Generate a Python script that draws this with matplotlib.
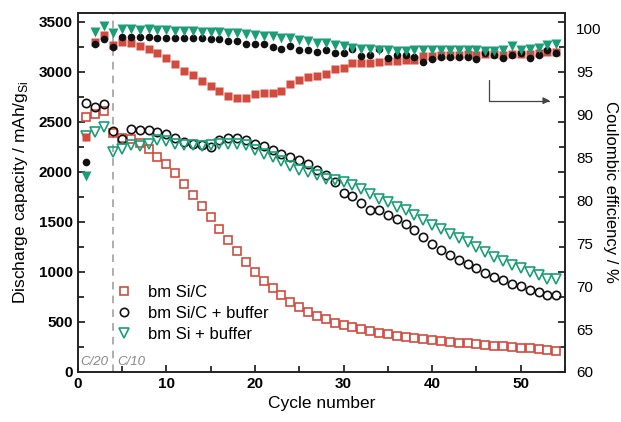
import matplotlib
matplotlib.use("Agg")
import matplotlib.pyplot as plt
from matplotlib.ticker import MultipleLocator

plt.rcParams['font.family'] = ['Liberation Sans', 'DejaVu Sans']
plt.rcParams['mathtext.fontset'] = 'custom'
plt.rcParams['mathtext.rm'] = 'Liberation Sans'

cycles = list(range(1, 55))

# discharge capacity, mAh/g Si (open markers)
cap_sic = [2552, 2579, 2605, 2390, 2340, 2330, 2290, 2230, 2147, 2081,
           1987, 1880, 1770, 1660, 1545, 1430, 1316, 1205, 1094, 1000,
           910, 836, 770, 701, 645, 603, 561, 528, 492, 469,
           446, 426, 409, 390, 379, 362, 352, 342, 333, 320,
           310, 300, 292, 285, 278, 270, 263, 256, 249, 242,
           235, 228, 221, 214]
cap_sic_buf = [2685, 2652, 2679, 2406, 2330, 2430, 2413, 2413, 2396, 2380,
               2336, 2296, 2279, 2263, 2246, 2313, 2336, 2336, 2313, 2280,
               2256, 2220, 2180, 2147, 2114, 2074, 2020, 1964, 1897, 1788,
               1755, 1688, 1622, 1622, 1565, 1525, 1475, 1423, 1349, 1275,
               1218, 1166, 1123, 1074, 1034, 994, 950, 917, 884, 857,
               824, 795, 772, 765]
cap_si_buf = [2353, 2396, 2446, 2196, 2230, 2263, 2253, 2280, 2313, 2303,
              2280, 2270, 2263, 2256, 2263, 2280, 2280, 2280, 2263, 2222,
              2180, 2147, 2104, 2054, 2020, 1997, 1964, 1930, 1914, 1897,
              1864, 1831, 1781, 1731, 1698, 1648, 1615, 1572, 1520, 1470,
              1428, 1383, 1339, 1299, 1249, 1199, 1150, 1107, 1067, 1034,
              1000, 967, 934, 934]

# coulombic efficiency, % (filled markers)
ce_sic = [87.3, 98.4, 99.2, 98.0, 98.4, 98.3, 97.9, 97.6, 97.1, 96.5,
          95.8, 95.0, 94.6, 93.8, 93.3, 92.7, 92.1, 91.9, 91.9, 92.3,
          92.5, 92.5, 92.7, 93.5, 94.0, 94.3, 94.4, 94.7, 95.3, 95.4,
          95.9, 96.0, 96.0, 96.1, 96.2, 96.2, 96.3, 96.3, 96.8, 96.8,
          96.9, 96.9, 96.9, 97.0, 96.9, 97.0, 97.0, 96.9, 97.0, 97.0,
          97.0, 97.1, 97.2, 97.2]
ce_sic_buf = [84.4, 98.2, 98.7, 97.8, 99.0, 99.0, 99.0, 99.0, 98.9, 98.9,
              98.8, 98.8, 98.8, 98.8, 98.7, 98.7, 98.5, 98.5, 98.2, 98.1,
              98.2, 97.8, 97.6, 97.9, 97.5, 97.4, 97.2, 97.4, 97.1, 97.1,
              97.6, 96.8, 96.9, 97.6, 96.5, 96.9, 96.9, 96.7, 96.1, 96.4,
              96.7, 96.7, 96.7, 96.7, 96.4, 97.1, 96.9, 96.5, 96.9, 97.1,
              96.5, 96.9, 97.4, 97.1]
ce_si_buf = [82.8, 99.6, 100.2, 99.4, 99.9, 99.9, 99.8, 99.9, 99.8, 99.8,
             99.7, 99.7, 99.65, 99.6, 99.6, 99.6, 99.45, 99.4, 99.3, 99.2,
             99.1, 99.1, 98.8, 98.9, 98.6, 98.5, 98.3, 98.3, 98.0, 97.9,
             97.7, 97.6, 97.6, 97.4, 97.4, 97.35, 97.35, 97.5, 97.4, 97.4,
             97.4, 97.4, 97.4, 97.4, 97.4, 97.3, 97.3, 97.4, 97.9, 97.4,
             97.6, 97.7, 98.0, 98.1]

labels = ["bm Si/C", "bm Si/C + buffer", "bm Si + buffer"]
red = "#d24b3f"
black = "#111111"
green = "#1b9e77"

fig = plt.figure(figsize=(6.21, 4.22), dpi=100)
ax = fig.add_axes([0.125, 0.1185, 0.785, 0.8515])
ax2 = ax.twinx()

# capacity on left axis
h1, = ax.plot(cycles, cap_sic, 's', ms=5.5, mfc='white', mec=red, mew=1.2, label=labels[0])
h2, = ax.plot(cycles, cap_sic_buf, 'o', ms=6, mfc='none', mec=black, mew=1.2, label=labels[1])
h3, = ax.plot(cycles, cap_si_buf, 'v', ms=7, mfc='none', mec=green, mew=1.2, label=labels[2])

# coulombic efficiency on right axis
ax2.plot(cycles, ce_sic, 's', ms=5.5, color=red, mec='none')
ax2.plot(cycles, ce_sic_buf, 'o', ms=5.5, color=black, mec='none')
ax2.plot(cycles, ce_si_buf, 'v', ms=6.5, color=green, mec='none')

ax.axvline(4, color='#999999', ls=(0, (5, 4)), lw=1.1, zorder=0)
ax.text(1.9, 100, 'C/20', style='italic', color='#888888', fontsize=9.5, ha='center', va='center')
ax.text(6.1, 100, 'C/10', style='italic', color='#888888', fontsize=9.5, ha='center', va='center')

ax.set_xlim(0, 55)
ax.set_ylim(0, 3590)
ax2.set_ylim(60, 101.8)

ax.xaxis.set_major_locator(MultipleLocator(10))
ax.xaxis.set_minor_locator(MultipleLocator(5))
ax.yaxis.set_major_locator(MultipleLocator(500))
ax.yaxis.set_minor_locator(MultipleLocator(250))
ax.tick_params(which='both', direction='in', right=True, top=False, width=1.1)
ax.tick_params(which='major', length=5)
ax.tick_params(which='minor', length=4)
for lab in ax.get_xticklabels() + ax.get_yticklabels():
    lab.set_fontweight('bold')
    lab.set_fontsize(11)

ax2.set_yticks([60, 65, 70, 75, 80, 85, 90, 95, 100])
ax2.tick_params(axis='y', length=0, pad=8, labelsize=11)

for sp in list(ax.spines.values()) + list(ax2.spines.values()):
    sp.set_linewidth(1.2)
    sp.set_color('#222222')

ax.set_xlabel('Cycle number', fontsize=12.5, labelpad=4)
ax.set_ylabel('Discharge capacity / mAh/g$_{\\mathrm{Si}}$', fontsize=12.5, labelpad=6)
ax2.set_ylabel('Coulombic efficiency / %', fontsize=12, rotation=270, labelpad=12)

ax.annotate('', xy=(0.969, 0.755), xytext=(0.844, 0.813), xycoords='axes fraction',
            arrowprops=dict(arrowstyle='-|>', connectionstyle='angle,angleA=90,angleB=0,rad=0',
                            color='#444444', lw=0.9, mutation_scale=10, shrinkA=0, shrinkB=0))

ax.legend(handles=[h1, h2, h3], loc='upper left', bbox_to_anchor=(0.065, 0.26),
          frameon=False, fontsize=12, handletextpad=0.9, labelspacing=0.35,
          handlelength=1.0, borderaxespad=0)

fig.savefig('out.png', dpi=100)
